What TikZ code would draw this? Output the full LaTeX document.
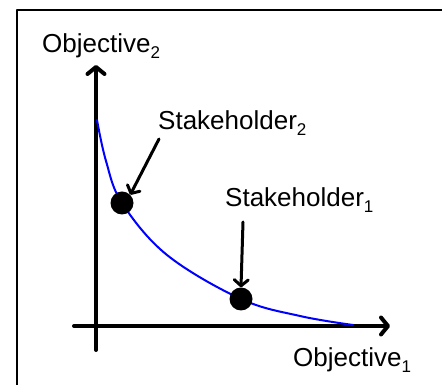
\documentclass[tikz,border=0pt]{standalone}
\usepackage{fontspec}
\setmainfont{Liberation Sans}
\usetikzlibrary{arrows.meta}
\newcommand{\lowidx}[1]{{\fontsize{17}{17}\selectfont\raisebox{-6pt}{#1}}}
\tikzset{
	axis/.style={line width=4pt,-{Straight Barb[length=7pt,width=17pt,round]}},
	pointer/.style={line width=3pt,-{Straight Barb[length=6pt,width=14pt,round]}},
	label/.style={inner sep=0pt,anchor=base west,font=\fontsize{26}{30}\selectfont},
	stake/.style={circle,fill=black,inner sep=0pt,minimum size=23pt}
}
\begin{document}
\begin{tikzpicture}[line join=round, line cap=round, x=1pt, y=1pt]
	\useasboundingbox (0,0) rectangle (442,385);
	\draw[line width=1.5pt] (17,-10) rectangle (460,375);%khung
	%truc
	\coordinate (o0) at (96,35);
	\coordinate (oy) at (96,320);
	\coordinate (x0) at (74,59);
	\coordinate (ox) at (390,59);
	\draw[axis] (o0)--(oy);
	\draw[axis] (x0)--(ox);
	\node[label] (obj2) at (42,332) {Objective\lowidx{2}};
	\node[label] (obj1) at (293,18) {Objective\lowidx{1}};
	%duong cong
	\draw[blue,line width=2pt] plot[smooth,tension=.6] coordinates {(97,265) (106,224) (122,182) (167,130) (241,86) (300,69) (353,60)};
	\node[stake] (s2) at (122,182) {};
	\node[stake] (s1) at (241,86) {};
	\node[label] (t2) at (158,255) {Stakeholder\lowidx{2}};
	\node[label] (t1) at (225,178) {Stakeholder\lowidx{1}};
	\coordinate (a2) at (159,246);
	\coordinate (a1) at (243,163);
	\draw[pointer] (a2)--(s2.north east);
	\draw[pointer] (a1)--(s1.north);
\end{tikzpicture}
\end{document}
